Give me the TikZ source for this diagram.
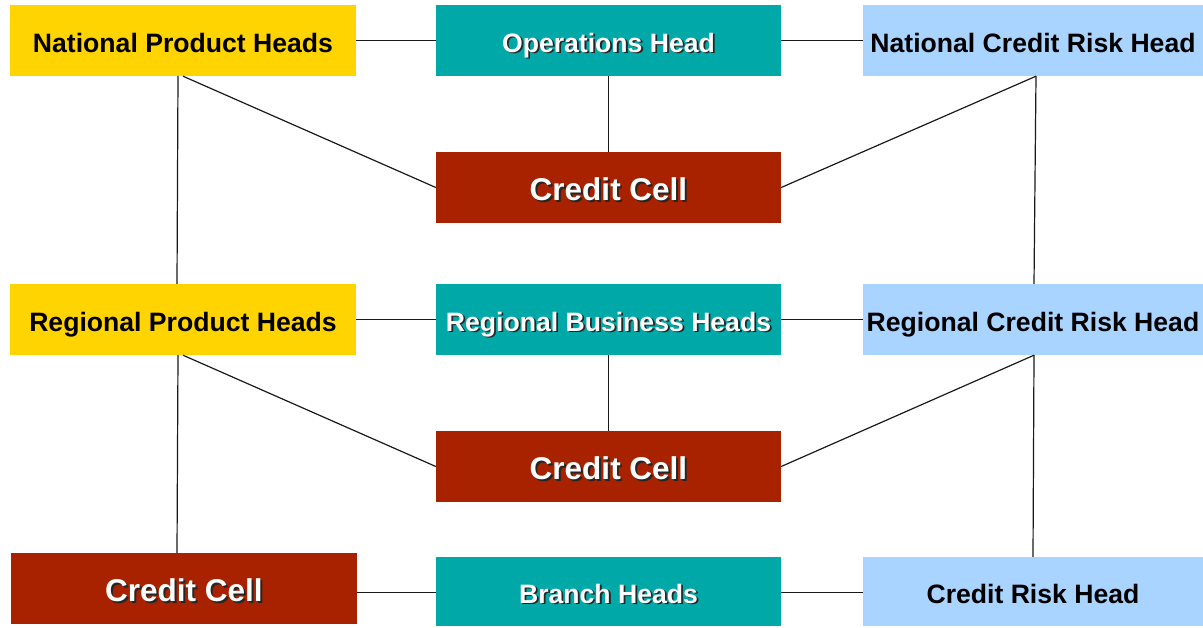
\documentclass[tikz,border=0pt]{standalone}
\usepackage{fontspec}
\setmainfont{Liberation Sans}
\definecolor{cyellow}{HTML}{FFD400}
\definecolor{cteal}{HTML}{00A8A8}
\definecolor{cred}{HTML}{A82200}
\definecolor{cblue}{HTML}{A8D4FF}
\newcommand\shtext[1]{\leavevmode\rlap{\kern1.8pt\raisebox{-1.8pt}{\color{black!85}#1}}#1}
\tikzset{
  box/.style={inner sep=0pt, minimum height=71pt, text height=30pt, text depth=7pt,
    font=\bfseries\fontsize{26.6}{28}\selectfont},
  ybox/.style={box, fill=cyellow, minimum width=346pt, text=black},
  tbox/.style={box, fill=cteal, minimum width=345pt, text=white},
  rbox/.style={box, fill=cred, minimum width=345pt, text=white, text height=33pt, text depth=7pt,
    font=\bfseries\fontsize{31.5}{33}\selectfont},
  bbox/.style={box, fill=cblue, minimum width=340pt, text=black},
  conn/.style={draw=black!90, line width=1.2pt}
}
\begin{document}
\begin{tikzpicture}[x=1pt,y=-1pt]
\useasboundingbox (0,0) rectangle (1203,627);
% row 1
\node[ybox] (yp1) at (183,40.5) {National Product Heads};
\node[tbox] (op)  at (608.5,40.5) {\shtext{Operations Head}};
\node[bbox] (bn1) at (1033,40.5) {National Credit Risk Head};
\node[rbox] (cc1) at (608.5,187.5) {\shtext{Credit Cell}};
% row 2
\node[ybox] (yp2) at (183,319.5) {Regional Product Heads};
\node[tbox] (rb)  at (608.5,319.5) {\shtext{Regional Business Heads}};
\node[bbox] (bn2) at (1033,319.5) {Regional Credit Risk Head};
\node[rbox] (cc2) at (608.5,466.5) {\shtext{Credit Cell}};
% row 3
\node[rbox, minimum width=346pt] (cc3) at (184,588.5) {\shtext{Credit Cell}};
\node[tbox, minimum height=69pt] (bh) at (608.5,591.5) {\shtext{Branch Heads}};
\node[bbox, minimum height=69pt] (crh) at (1033,591.5) {Credit Risk Head};
% connectors row 1
\draw[conn] (yp1) -- (op);
\draw[conn] (op) -- (bn1);
\draw[conn] (op.south) -- (cc1.north);
\draw[conn] (yp1.south) -- (cc1.west);
\draw[conn] ([xshift=3pt]bn1.south) -- (cc1.east);
\draw[conn] ([xshift=-5pt]yp1.south) -- ([xshift=-6pt]yp2.north);
\draw[conn] ([xshift=3pt]bn1.south) -- ([xshift=1pt]bn2.north);
% connectors row 2
\draw[conn] (yp2) -- (rb);
\draw[conn] (rb) -- (bn2);
\draw[conn] (rb.south) -- (cc2.north);
\draw[conn] (yp2.south) -- (cc2.west);
\draw[conn] ([xshift=1pt]bn2.south) -- (cc2.east);
\draw[conn] ([xshift=-5pt]yp2.south) -- ([xshift=-7pt]cc3.north);
\draw[conn] ([xshift=1pt]bn2.south) -- ([xshift=0pt]crh.north);
% connectors row 3
\draw[conn] ([yshift=-4pt]cc3.east) -- ([yshift=-1pt]bh.west);
\draw[conn] ([yshift=-1pt]bh.east) -- ([yshift=-1pt]crh.west);
\end{tikzpicture}
\end{document}
